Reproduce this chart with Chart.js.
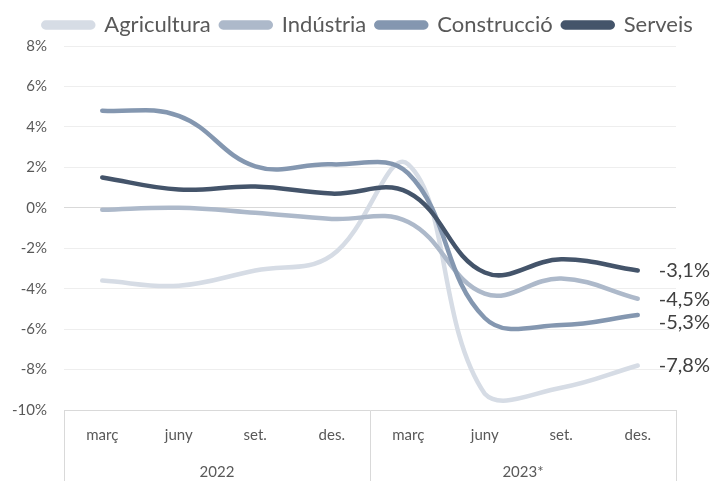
<!DOCTYPE html>
<html>
<head>
<meta charset="utf-8">
<script src="https://cdn.jsdelivr.net/npm/chart.js@4"></script>
<style>
  html, body { margin: 0; padding: 0; background: #fff; }
  #wrap { width: 716px; height: 481px; }
</style>
</head>
<body>
<div id="wrap"><canvas id="lineChart"></canvas></div>
<script>
// categories
const months = ['març', 'juny', 'set.', 'des.', 'març', 'juny', 'set.', 'des.'];
const years = ['2022', '2023*'];
const monthsPerYear = 4;

// series values (%)
const agricultura = [-3.6, -3.85, -3.1, -2.35, 2.15, -9.2, -8.9, -7.8];
const industria = [-0.1, 0.0, -0.25, -0.55, -0.7, -4.25, -3.5, -4.5];
const construccio = [4.8, 4.55, 2.05, 2.15, 1.7, -5.45, -5.8, -5.3];
const serveis = [1.5, 0.9, 1.05, 0.7, 0.75, -3.2, -2.55, -3.1];

const FONT = 'Lato, "Liberation Sans", sans-serif';

// value labels at the end of each line
const endLabels = {
  id: 'endLabels',
  afterLayout(chart) {
    // legend sits a bit right of centre in the original
    chart.legend.left += 30;
    chart.legend.right += 30;
  },
  afterDatasetsDraw(chart) {
    const ctx = chart.ctx;
    const shift = [0, 1, 8, 0];
    ctx.save();
    ctx.font = '20px ' + FONT;
    ctx.fillStyle = '#404040';
    ctx.textAlign = 'left';
    ctx.textBaseline = 'middle';
    chart.data.datasets.forEach((ds, i) => {
      const meta = chart.getDatasetMeta(i);
      const pt = meta.data[meta.data.length - 1];
      const v = ds.data[ds.data.length - 1];
      ctx.fillText(v.toFixed(1).replace('.', ',') + '%', pt.x + 21, pt.y + shift[i]);
    });
    ctx.restore();
  }
};

const ctx = document.getElementById('lineChart').getContext('2d');

new Chart(ctx, {
  type: 'line',
  data: {
    labels: months,
    datasets: [
      { label: 'Agricultura', data: agricultura, borderColor: '#d6dce5', backgroundColor: '#d6dce5', order: 3 },
      { label: 'Indústria', data: industria, borderColor: '#adb9ca', backgroundColor: '#adb9ca', order: 2 },
      { label: 'Construcció', data: construccio, borderColor: '#8497b0', backgroundColor: '#8497b0', order: 1 },
      { label: 'Serveis', data: serveis, borderColor: '#44546a', backgroundColor: '#44546a', order: 0 }
    ]
  },
  options: {
    responsive: true,
    maintainAspectRatio: false,
    animation: false,
    layout: { padding: { left: 0, right: 40, top: 4, bottom: 0 } },
    elements: {
      line: { borderWidth: 4.5, tension: 0.4, borderCapStyle: 'round', borderJoinStyle: 'round', fill: false },
      point: { radius: 0, hoverRadius: 0 }
    },
    plugins: {
      legend: {
        display: true,
        position: 'top',
        labels: {
          font: { family: FONT, size: 22 },
          color: '#595959',
          boxWidth: 50,
          boxHeight: 5,
          useBorderRadius: true,
          borderRadius: 2.5,
          padding: 10,
          sort: (a, b) => a.datasetIndex - b.datasetIndex
        }
      },
      tooltip: { enabled: false }
    },
    scales: {
      x: {
        type: 'category',
        position: 'bottom',
        offset: true,
        afterFit: s => { s.height = 40; },
        grid: {
          offset: true,
          drawOnChartArea: false,
          tickLength: 71,
          lineWidth: 1,
          color: c => (c.index === undefined || c.index % monthsPerYear === 0) ? '#d9d9d9' : 'rgba(0,0,0,0)'
        },
        border: { display: true, color: '#d9d9d9' },
        ticks: {
          padding: -55,
          maxRotation: 0,
          autoSkip: false,
          font: { family: FONT, size: 15 },
          color: '#595959'
        }
      },
      x2: {
        type: 'linear',
        position: 'bottom',
        min: 0,
        max: months.length,
        afterFit: s => { s.height = 31; },
        afterBuildTicks: s => { s.ticks = years.map((y, i) => ({ value: i * monthsPerYear + monthsPerYear / 2 })); },
        grid: { display: false },
        border: { display: false },
        ticks: {
          padding: 5,
          maxRotation: 0,
          autoSkip: false,
          font: { family: FONT, size: 15 },
          color: '#595959',
          callback: (v) => years[Math.floor(v / monthsPerYear)]
        }
      },
      y: {
        min: -10,
        max: 8,
        afterFit: s => { s.width = 64; },
        ticks: {
          stepSize: 2,
          padding: 17,
          font: { family: FONT, size: 15 },
          color: '#595959',
          callback: v => v + '%'
        },
        grid: {
          drawTicks: false,
          color: c => c.tick && c.tick.value === 0 ? '#d9d9d9' : '#eeeeee',
          lineWidth: 1
        },
        border: { display: false }
      }
    }
  },
  plugins: [endLabels]
});
</script>
</body>
</html>
